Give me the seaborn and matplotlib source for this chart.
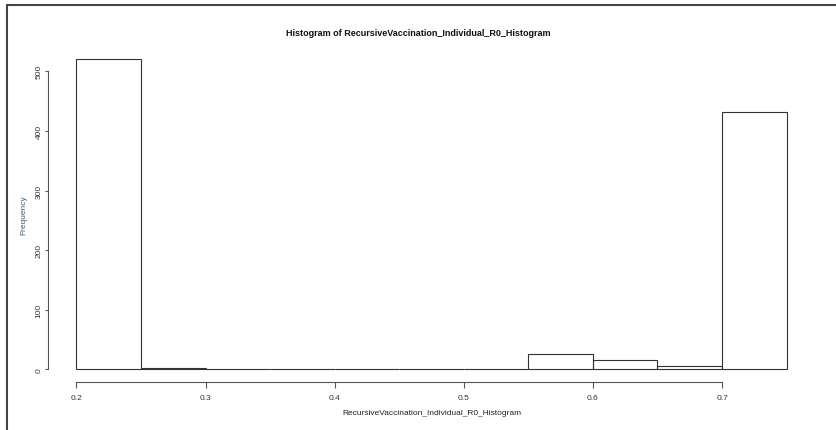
import matplotlib
matplotlib.use("Agg")
import matplotlib.pyplot as plt
from matplotlib.lines import Line2D
import numpy as np
import seaborn as sb

# histogram bins
bin_edges = [0.2, 0.25, 0.3, 0.35, 0.4, 0.45, 0.5, 0.55, 0.6, 0.65, 0.7, 0.75]
counts = [520, 3, 0, 0, 0, 0, 0, 25, 15, 5, 431]
x_ticks = [0.2, 0.3, 0.4, 0.5, 0.6, 0.7]
y_ticks = [0, 100, 200, 300, 400, 500]

title = "Histogram of RecursiveVaccination_Individual_R0_Histogram"
x_label = "RecursiveVaccination_Individual_R0_Histogram"
y_label = "Frequency"

sb.set_style("white")
plt.rcParams['font.family'] = ['Liberation Sans', 'DejaVu Sans']

fig = plt.figure(figsize=(8.37, 4.31), dpi=100)
ax = fig.add_axes([48 / 837, 1 - 382.7 / 431, (815 - 48) / 837, (382.7 - 48) / 431])

centers = [(bin_edges[i] + bin_edges[i + 1]) / 2 for i in range(len(counts))]
sb.histplot(x=centers, weights=counts, bins=bin_edges, fill=False, element="bars",
            color="#333333", linewidth=0.8, ax=ax)

ax.set_xlim(0.2 - 0.022, 0.75 + 0.022)
ax.set_ylim(-20.8, 540.8)
ax.set_xticks(x_ticks)
ax.set_xticklabels([str(t) for t in x_ticks])
ax.set_yticks(y_ticks)
ax.set_yticklabels([str(t) for t in y_ticks], rotation=90, va="center")

for s in ["top", "right"]:
    ax.spines[s].set_visible(False)
ax.spines["left"].set_bounds(0, 500)
ax.spines["bottom"].set_bounds(0.2, 0.7)
for s in ["left", "bottom"]:
    ax.spines[s].set_color("#555555")
    ax.spines[s].set_linewidth(0.8)
ax.tick_params(axis="both", width=0.8, color="#555555", labelsize=6,
               labelcolor="#333333", left=True, bottom=True)
ax.tick_params(axis="x", length=4, pad=5)
ax.tick_params(axis="y", length=2.5, pad=1.5)

ax.set_xlabel(x_label, fontsize=6, color="#222222", labelpad=5.5)
ax.set_ylabel(y_label, fontsize=6, color="#3a5a80", labelpad=6)
fig.text(0.5, 1 - 33 / 431, title, ha="center", va="center", fontsize=6.5,
         fontweight="bold", color="#111111")

# window frame on the left and top
fig.add_artist(Line2D([7 / 837, 7 / 837], [0, 1 - 6 / 431], color="#444444", lw=1.5))
fig.add_artist(Line2D([7 / 837, 1], [1 - 6 / 431, 1 - 6 / 431], color="#444444", lw=1.5))

plt.savefig("out.png", dpi=100)
